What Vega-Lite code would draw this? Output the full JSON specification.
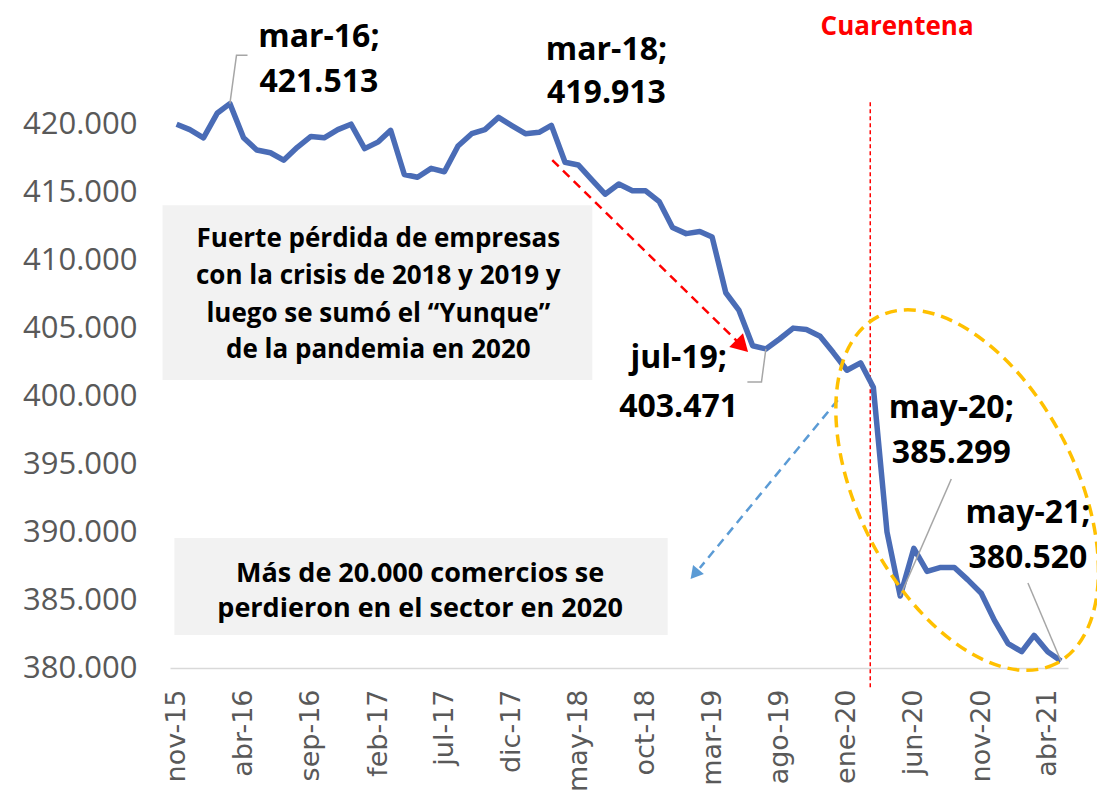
{
  "$schema": "https://vega.github.io/schema/vega-lite/v6.json",
  "width": 898,
  "height": 571,
  "autosize": {"type": "none"},
  "padding": {"left": 170, "top": 97, "right": 29, "bottom": 136},
  "background": "#ffffff",
  "config": {"view": {"stroke": null}},
  "datasets": {
    "serie": [
      {"fecha": "2015-11-15", "valor": 420000},
      {"fecha": "2015-12-15", "valor": 419600},
      {"fecha": "2016-01-15", "valor": 419000},
      {"fecha": "2016-02-15", "valor": 420800},
      {"fecha": "2016-03-15", "valor": 421513},
      {"fecha": "2016-04-15", "valor": 419000},
      {"fecha": "2016-05-15", "valor": 418100},
      {"fecha": "2016-06-15", "valor": 417900},
      {"fecha": "2016-07-15", "valor": 417350},
      {"fecha": "2016-08-15", "valor": 418300},
      {"fecha": "2016-09-15", "valor": 419100},
      {"fecha": "2016-10-15", "valor": 419000},
      {"fecha": "2016-11-15", "valor": 419600},
      {"fecha": "2016-12-15", "valor": 420000},
      {"fecha": "2017-01-15", "valor": 418200},
      {"fecha": "2017-02-15", "valor": 418700},
      {"fecha": "2017-03-15", "valor": 419550},
      {"fecha": "2017-04-15", "valor": 416300},
      {"fecha": "2017-05-15", "valor": 416100},
      {"fecha": "2017-06-15", "valor": 416750},
      {"fecha": "2017-07-15", "valor": 416500},
      {"fecha": "2017-08-15", "valor": 418400},
      {"fecha": "2017-09-15", "valor": 419300},
      {"fecha": "2017-10-15", "valor": 419600},
      {"fecha": "2017-11-15", "valor": 420500},
      {"fecha": "2017-12-15", "valor": 419900},
      {"fecha": "2018-01-15", "valor": 419300},
      {"fecha": "2018-02-15", "valor": 419400},
      {"fecha": "2018-03-15", "valor": 419913},
      {"fecha": "2018-04-15", "valor": 417200},
      {"fecha": "2018-05-15", "valor": 417000},
      {"fecha": "2018-06-15", "valor": 415900},
      {"fecha": "2018-07-15", "valor": 414850},
      {"fecha": "2018-08-15", "valor": 415600},
      {"fecha": "2018-09-15", "valor": 415100},
      {"fecha": "2018-10-15", "valor": 415100},
      {"fecha": "2018-11-15", "valor": 414300},
      {"fecha": "2018-12-15", "valor": 412400},
      {"fecha": "2019-01-15", "valor": 411950},
      {"fecha": "2019-02-15", "valor": 412100},
      {"fecha": "2019-03-15", "valor": 411700},
      {"fecha": "2019-04-15", "valor": 407600},
      {"fecha": "2019-05-15", "valor": 406300},
      {"fecha": "2019-06-15", "valor": 403700},
      {"fecha": "2019-07-15", "valor": 403471},
      {"fecha": "2019-08-15", "valor": 404200},
      {"fecha": "2019-09-15", "valor": 405000},
      {"fecha": "2019-10-15", "valor": 404900},
      {"fecha": "2019-11-15", "valor": 404400},
      {"fecha": "2019-12-15", "valor": 403200},
      {"fecha": "2020-01-15", "valor": 401900},
      {"fecha": "2020-02-15", "valor": 402450},
      {"fecha": "2020-03-15", "valor": 400650},
      {"fecha": "2020-04-15", "valor": 390000},
      {"fecha": "2020-05-15", "valor": 385299},
      {"fecha": "2020-06-15", "valor": 388800},
      {"fecha": "2020-07-15", "valor": 387100},
      {"fecha": "2020-08-15", "valor": 387400},
      {"fecha": "2020-09-15", "valor": 387400},
      {"fecha": "2020-10-15", "valor": 386500},
      {"fecha": "2020-11-15", "valor": 385500},
      {"fecha": "2020-12-15", "valor": 383500},
      {"fecha": "2021-01-15", "valor": 381800},
      {"fecha": "2021-02-15", "valor": 381200},
      {"fecha": "2021-03-15", "valor": 382400},
      {"fecha": "2021-04-15", "valor": 381200},
      {"fecha": "2021-05-15", "valor": 380520}
    ],
    "cuadros": [
      {"fecha": "2015-10-14", "fecha2": "2018-06-16", "valor": 414044, "valor2": 401176},
      {"fecha": "2015-11-10", "fecha2": "2018-12-04", "valor": 389559, "valor2": 382426}
    ],
    "cuarentena": [
      {"fecha": "2020-03-08", "valor": 421618, "valor2": 378382}
    ],
    "lideres": [
      {"grupo": "mar-16", "orden": 1, "fecha": "2016-03-15", "valor": 421513},
      {"grupo": "mar-16", "orden": 2, "fecha": "2016-03-30", "valor": 425074},
      {"grupo": "mar-16", "orden": 3, "fecha": "2016-04-24", "valor": 425074},
      {"grupo": "jul-19", "orden": 1, "fecha": "2019-07-15", "valor": 403471},
      {"grupo": "jul-19", "orden": 2, "fecha": "2019-07-05", "valor": 401029},
      {"grupo": "jul-19", "orden": 3, "fecha": "2019-06-03", "valor": 401029},
      {"grupo": "may-20", "orden": 1, "fecha": "2020-05-15", "valor": 385299},
      {"grupo": "may-20", "orden": 2, "fecha": "2020-09-08", "valor": 393897},
      {"grupo": "may-21", "orden": 1, "fecha": "2021-05-15", "valor": 380520},
      {"grupo": "may-21", "orden": 2, "fecha": "2021-03-01", "valor": 386250}
    ],
    "flechaRoja": [
      {"orden": 1, "fecha": "2018-03-17", "valor": 417353},
      {"orden": 2, "fecha": "2019-05-15", "valor": 403897}
    ],
    "puntaRoja": [
      {"fecha": "2019-05-22", "valor": 403676}
    ],
    "flechaAzul": [
      {"orden": 1, "fecha": "2019-12-25", "valor": 399706},
      {"orden": 2, "fecha": "2019-02-15", "valor": 387353}
    ],
    "puntaAzul": [
      {"fecha": "2019-02-03", "valor": 386900}
    ],
    "elipse": [
      {"fecha": "2020-10-14", "valor": 393088}
    ],
    "etiquetas": [
      {"fecha": "2016-10-03", "valor": 425662, "texto": "mar-16;"},
      {"fecha": "2016-10-03", "valor": 422353, "texto": "421.513"},
      {"fecha": "2018-07-18", "valor": 424706, "texto": "mar-18;"},
      {"fecha": "2018-07-18", "valor": 421544, "texto": "419.913"},
      {"fecha": "2018-12-29", "valor": 402059, "texto": "jul-19;"},
      {"fecha": "2018-12-29", "valor": 398456, "texto": "403.471"},
      {"fecha": "2020-09-08", "valor": 398382, "texto": "may-20;"},
      {"fecha": "2020-09-08", "valor": 395074, "texto": "385.299"},
      {"fecha": "2021-03-01", "valor": 390662, "texto": "may-21;"},
      {"fecha": "2021-03-01", "valor": 387353, "texto": "380.520"}
    ],
    "texto1": [
      {"fecha": "2017-02-15", "valor": 410956, "texto": "Fuerte pérdida de empresas"},
      {"fecha": "2017-02-15", "valor": 408235, "texto": "con la crisis de 2018 y 2019 y"},
      {"fecha": "2017-02-15", "valor": 405441, "texto": "luego se sumó el “Yunque”"},
      {"fecha": "2017-02-15", "valor": 402794, "texto": "de la pandemia en 2020"}
    ],
    "texto2": [
      {"fecha": "2017-05-21", "valor": 386324, "texto": "Más de 20.000 comercios se"},
      {"fecha": "2017-05-21", "valor": 383750, "texto": "perdieron en el sector en 2020"}
    ],
    "titulo": [
      {"fecha": "2020-05-08", "valor": 426544, "texto": "Cuarentena"}
    ]
  },
  "encoding": {
    "x": {
      "field": "fecha",
      "type": "temporal",
      "scale": {
        "domain": [
          {"year": 2015, "month": 10, "date": 31, "utc": true},
          {"year": 2021, "month": 5, "date": 31, "utc": true}
        ],
        "nice": false
      },
      "axis": {
        "title": null,
        "grid": false,
        "ticks": false,
        "domainColor": "#d9d9d9",
        "domainWidth": 1.5,
        "labelAngle": -90,
        "labelFont": "DejaVu Sans",
        "labelFontSize": 27,
        "labelColor": "#595959",
        "labelPadding": 21,
        "labelOverlap": false,
        "labelFlush": false,
        "values": [
          {"year": 2015, "month": 11, "date": 15, "utc": true},
          {"year": 2016, "month": 4, "date": 15, "utc": true},
          {"year": 2016, "month": 9, "date": 15, "utc": true},
          {"year": 2017, "month": 2, "date": 15, "utc": true},
          {"year": 2017, "month": 7, "date": 15, "utc": true},
          {"year": 2017, "month": 12, "date": 15, "utc": true},
          {"year": 2018, "month": 5, "date": 15, "utc": true},
          {"year": 2018, "month": 10, "date": 15, "utc": true},
          {"year": 2019, "month": 3, "date": 15, "utc": true},
          {"year": 2019, "month": 8, "date": 15, "utc": true},
          {"year": 2020, "month": 1, "date": 15, "utc": true},
          {"year": 2020, "month": 6, "date": 15, "utc": true},
          {"year": 2020, "month": 11, "date": 15, "utc": true},
          {"year": 2021, "month": 4, "date": 15, "utc": true}
        ],
        "labelExpr": "['ene','feb','mar','abr','may','jun','jul','ago','sep','oct','nov','dic'][utcmonth(datum.value)] + '-' + utcFormat(datum.value, '%y')"
      }
    },
    "y": {
      "field": "valor",
      "type": "quantitative",
      "scale": {"domain": [380000, 422000], "nice": false, "zero": false},
      "axis": {
        "title": null,
        "grid": false,
        "ticks": false,
        "domain": false,
        "values": [380000, 385000, 390000, 395000, 400000, 405000, 410000, 415000, 420000],
        "labelFont": "Open Sans",
        "labelFontSize": 31,
        "labelColor": "#595959",
        "labelPadding": 33,
        "labelExpr": "replace(format(datum.value, ',.0f'), ',', '.')"
      }
    }
  },
  "layer": [
    {
      "data": {"name": "cuadros"},
      "mark": {"type": "rect", "fill": "#f2f2f2"},
      "encoding": {
        "x2": {"field": "fecha2"},
        "y2": {"field": "valor2"}
      }
    },
    {
      "data": {"name": "cuarentena"},
      "mark": {"type": "rule", "color": "#ff0000", "strokeWidth": 1.5, "strokeDash": [4, 3]},
      "encoding": {
        "y2": {"field": "valor2"}
      }
    },
    {
      "data": {"name": "serie"},
      "mark": {"type": "line", "color": "#4a6cb6", "strokeWidth": 5.5, "strokeJoin": "round"}
    },
    {
      "data": {"name": "lideres"},
      "mark": {"type": "line", "color": "#a6a6a6", "strokeWidth": 1.5},
      "encoding": {
        "detail": {"field": "grupo"},
        "order": {"field": "orden"}
      }
    },
    {
      "data": {"name": "flechaRoja"},
      "mark": {"type": "line", "color": "#ff0000", "strokeWidth": 2.5, "strokeDash": [9, 6]},
      "encoding": {"order": {"field": "orden"}}
    },
    {
      "data": {"name": "puntaRoja"},
      "mark": {"type": "point", "shape": "triangle-up", "filled": true, "color": "#ff0000", "size": 380, "angle": 135, "opacity": 1}
    },
    {
      "data": {"name": "flechaAzul"},
      "mark": {"type": "line", "color": "#5b9bd5", "strokeWidth": 2.5, "strokeDash": [9, 6]},
      "encoding": {"order": {"field": "orden"}}
    },
    {
      "data": {"name": "puntaAzul"},
      "mark": {"type": "point", "shape": "triangle-up", "filled": true, "color": "#5b9bd5", "size": 200, "angle": 220, "opacity": 1}
    },
    {
      "data": {"name": "elipse"},
      "mark": {
        "type": "point",
        "shape": "M 0.4571 0.8894 A 1 0.56 62.8 0 1 -0.4571 -0.8894 A 1 0.56 62.8 0 1 0.4571 0.8894 Z",
        "filled": false,
        "stroke": "#ffc000",
        "strokeWidth": 3.5,
        "strokeDash": [12, 7],
        "size": 152100,
        "opacity": 1
      }
    },
    {
      "data": {"name": "etiquetas"},
      "mark": {"type": "text", "font": "Open Sans", "fontWeight": "bold", "fontSize": 32, "color": "#000000", "align": "center", "baseline": "alphabetic"},
      "encoding": {"text": {"field": "texto"}}
    },
    {
      "data": {"name": "texto1"},
      "mark": {"type": "text", "font": "Open Sans", "fontWeight": "bold", "fontSize": 26, "color": "#000000", "align": "center", "baseline": "alphabetic"},
      "encoding": {"text": {"field": "texto"}}
    },
    {
      "data": {"name": "texto2"},
      "mark": {"type": "text", "font": "Open Sans", "fontWeight": "bold", "fontSize": 27, "color": "#000000", "align": "center", "baseline": "alphabetic"},
      "encoding": {"text": {"field": "texto"}}
    },
    {
      "data": {"name": "titulo"},
      "mark": {"type": "text", "font": "Open Sans", "fontWeight": "bold", "fontSize": 26, "color": "#ff0000", "align": "center", "baseline": "alphabetic"},
      "encoding": {"text": {"field": "texto"}}
    }
  ]
}
